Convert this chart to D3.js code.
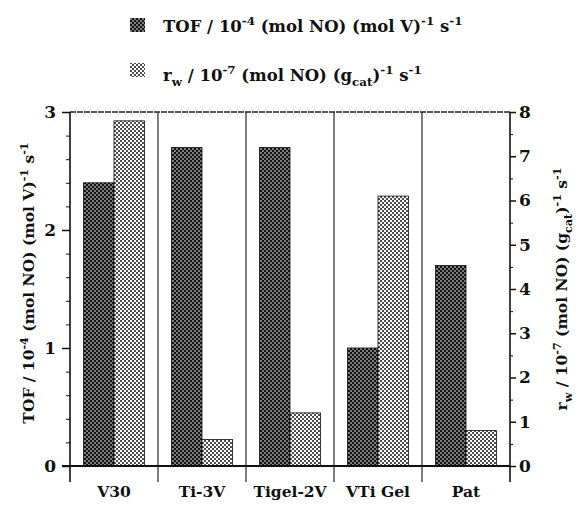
<!DOCTYPE html>
<html>
<head>
<meta charset="utf-8">
<script src="https://cdn.jsdelivr.net/npm/d3@7"></script>
<style>
  html, body { margin: 0; padding: 0; background: #fff; }
  svg { display: block; }
  text { font-family: "DejaVu Serif", serif; font-weight: bold; fill: #111; }
</style>
</head>
<body>
<svg id="chart" width="577" height="509"></svg>
<script>
// Catalysts and measured activities
const categories = ["V30", "Ti-3V", "Tigel-2V", "VTi Gel", "Pat"];
const tofValues = [2.4, 2.7, 2.7, 1.0, 1.7];   // TOF / 1e-4 (mol NO)(mol V)^-1 s^-1
const rwValues = [7.8, 0.6, 1.2, 6.1, 0.8];    // r_w / 1e-7 (mol NO)(g_cat)^-1 s^-1
const leftTicks = [0, 1, 2, 3];
const rightTicks = [0, 1, 2, 3, 4, 5, 6, 7, 8];
const seriesKeys = ["tof", "rw"];

const svg = d3.select("#chart");
const m = { left: 70, right: 510, top: 112, bottom: 466 };
const tickExtend = 16;

// Halftone fills
const defs = svg.append("defs");
const dark = defs.append("pattern").attr("id", "dark")
  .attr("patternUnits", "userSpaceOnUse").attr("width", 4).attr("height", 4);
dark.append("rect").attr("width", 4).attr("height", 4).attr("fill", "#141414");
dark.append("circle").attr("cx", 1).attr("cy", 1).attr("r", 0.8).attr("fill", "#fff");
dark.append("circle").attr("cx", 3).attr("cy", 3).attr("r", 0.8).attr("fill", "#fff");
const light = defs.append("pattern").attr("id", "light")
  .attr("patternUnits", "userSpaceOnUse").attr("width", 4).attr("height", 4);
light.append("rect").attr("width", 4).attr("height", 4).attr("fill", "#fff");
light.append("circle").attr("cx", 1).attr("cy", 1).attr("r", 1.0).attr("fill", "#111");
light.append("circle").attr("cx", 3).attr("cy", 3).attr("r", 1.0).attr("fill", "#111");
const fills = { tof: "url(#dark)", rw: "url(#light)" };

// Scales
const x = d3.scaleBand().domain(categories).range([m.left, m.right]).paddingInner(0).paddingOuter(0);
const x1 = d3.scaleBand().domain(seriesKeys).range([0, x.bandwidth()]).paddingInner(0).paddingOuter(0.443);
const yL = d3.scaleLinear().domain([0, 3]).range([m.bottom, m.top]);
const yR = d3.scaleLinear().domain([0, 8]).range([m.bottom, m.top]);

// Bars
const rows = categories.map((c, i) => ({ c, tof: tofValues[i], rw: rwValues[i] }));
const g = svg.append("g");
rows.forEach(r => {
  g.append("rect")
    .attr("x", x(r.c) + x1("tof")).attr("width", x1.bandwidth())
    .attr("y", yL(r.tof)).attr("height", yL(0) - yL(r.tof))
    .attr("fill", fills.tof).attr("stroke", "#111").attr("stroke-width", 0.8);
  g.append("rect")
    .attr("x", x(r.c) + x1("rw")).attr("width", x1.bandwidth())
    .attr("y", yR(r.rw)).attr("height", yR(0) - yR(r.rw))
    .attr("fill", fills.rw).attr("stroke", "#111").attr("stroke-width", 0.8);
});

// Group dividers running through the plot and below the baseline
const bounds = categories.map(c => x(c)).concat([m.right]);
svg.append("g").selectAll("line").data(bounds.slice(1, -1)).join("line")
  .attr("x1", d => d).attr("x2", d => d)
  .attr("y1", m.top).attr("y2", m.bottom + tickExtend)
  .attr("stroke", "#111").attr("stroke-width", 1.1);

// Frame top
svg.append("line").attr("x1", m.left).attr("x2", m.right).attr("y1", m.top).attr("y2", m.top)
  .attr("stroke", "#222").attr("stroke-width", 1.3).attr("stroke-dasharray", "6,1");

// Left axis
const axL = svg.append("g").attr("transform", `translate(${m.left},0)`)
  .call(d3.axisLeft(yL).tickValues(leftTicks).tickSize(8).tickSizeOuter(0).tickPadding(6).tickFormat(d3.format("d")));
axL.select(".domain").remove();
axL.selectAll(".tick line").attr("stroke", "#111").attr("stroke-width", 1.5);
axL.selectAll("text").attr("font-size", 17).attr("font-family", "DejaVu Serif").attr("font-weight", "bold").attr("fill", "#111");
svg.append("g").attr("transform", `translate(${m.left},0)`)
  .call(d3.axisLeft(yL).tickValues(d3.range(0, 3.001, 0.2).filter(v => Math.abs(v - Math.round(v)) > 1e-6)).tickSize(4).tickFormat(""))
  .call(s => s.select(".domain").remove())
  .selectAll(".tick line").attr("stroke", "#111").attr("stroke-width", 1);
svg.append("line").attr("x1", m.left).attr("x2", m.left).attr("y1", m.top).attr("y2", m.bottom + tickExtend)
  .attr("stroke", "#111").attr("stroke-width", 1.6);

// Right axis
const axR = svg.append("g").attr("transform", `translate(${m.right},0)`)
  .call(d3.axisRight(yR).tickValues(rightTicks).tickSize(6).tickSizeOuter(0).tickPadding(3).tickFormat(d3.format("d")));
axR.select(".domain").remove();
axR.selectAll(".tick line").attr("stroke", "#111").attr("stroke-width", 1.5);
axR.selectAll("text").attr("font-size", 17).attr("font-family", "DejaVu Serif").attr("font-weight", "bold").attr("fill", "#111");
svg.append("g").attr("transform", `translate(${m.right},0)`)
  .call(d3.axisRight(yR).tickValues(d3.range(0.5, 8, 1)).tickSize(3).tickFormat(""))
  .call(s => s.select(".domain").remove())
  .selectAll(".tick line").attr("stroke", "#111").attr("stroke-width", 1);
svg.append("line").attr("x1", m.right).attr("x2", m.right).attr("y1", m.top).attr("y2", m.bottom + tickExtend)
  .attr("stroke", "#111").attr("stroke-width", 1.6);

// Baseline
svg.append("line").attr("x1", m.left - 8).attr("x2", m.right).attr("y1", m.bottom).attr("y2", m.bottom)
  .attr("stroke", "#111").attr("stroke-width", 2);

// Category labels
const axB = svg.append("g").attr("transform", `translate(0,${m.bottom})`)
  .call(d3.axisBottom(x).tickSize(0).tickPadding(20));
axB.select(".domain").remove();
axB.selectAll("text").attr("font-size", 15.5).attr("font-family", "DejaVu Serif").attr("font-weight", "bold").attr("fill", "#111");

// Rich text with super/subscripts
function rich(sel, parts, size) {
  let shift = 0;
  parts.forEach(p => {
    const target = p.k === "sup" ? -0.42 * size : p.k === "sub" ? 0.32 * size : 0;
    sel.append("tspan").attr("dy", (target - shift).toFixed(2))
      .attr("font-size", p.k ? size * 0.72 : size).text(p.t);
    shift = target;
  });
}
const tofLabel = [
  { t: "TOF / 10" }, { t: "-4", k: "sup" }, { t: " (mol NO) (mol V)" }, { t: "-1", k: "sup" },
  { t: " s" }, { t: "-1", k: "sup" }
];
const rwLabel = [
  { t: "r" }, { t: "w", k: "sub" }, { t: " / 10" }, { t: "-7", k: "sup" }, { t: " (mol NO) (g" },
  { t: "cat", k: "sub" }, { t: ")" }, { t: "-1", k: "sup" }, { t: " s" }, { t: "-1", k: "sup" }
];

// Legend
const legend = svg.append("g");
[[tofLabel, "tof", 18, 32], [rwLabel, "rw", 63, 81]].forEach(([parts, key, sy, by]) => {
  legend.append("rect").attr("x", 130).attr("y", sy).attr("width", 15).attr("height", 14)
    .attr("fill", fills[key]);
  rich(legend.append("text").attr("x", 163).attr("y", by).attr("font-size", 16.5), parts, 16.5);
});

// Axis titles
rich(svg.append("text").attr("transform", `translate(34,${(m.top + m.bottom) / 2 - 6}) rotate(-90)`)
  .attr("text-anchor", "middle").attr("font-size", 15.5), tofLabel, 15.5);
rich(svg.append("text").attr("transform", `translate(567,${(m.top + m.bottom) / 2}) rotate(-90)`)
  .attr("text-anchor", "middle").attr("font-size", 15.5), rwLabel, 15.5);
</script>
</body>
</html>
